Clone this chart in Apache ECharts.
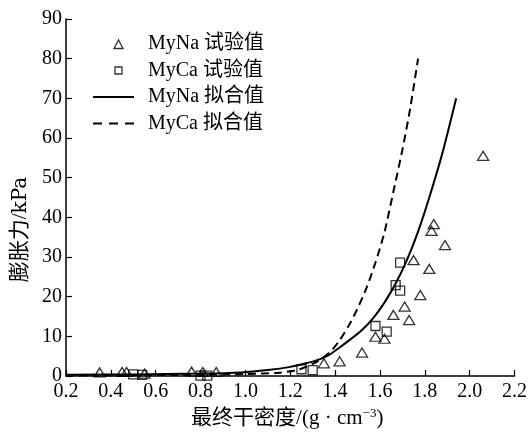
<!DOCTYPE html>
<html>
<head>
<meta charset="utf-8">
<script src="https://cdn.jsdelivr.net/npm/echarts@6/dist/echarts.min.js"></script>
<style>
html,body{margin:0;padding:0;background:#fff;}
#c{width:530px;height:439px;}
</style>
</head>
<body>
<div id="c"></div>
<script>
// ---- data ----
var xTicks = [0.2,0.4,0.6,0.8,1.0,1.2,1.4,1.6,1.8,2.0,2.2];
var yTicks = [0,10,20,30,40,50,60,70,80,90];

var naTestX = [0.35,0.45,0.47,0.55,0.76,0.81,0.87,1.35,1.42,1.52,1.58,1.62,1.66,1.71,1.73,1.75,1.78,1.82,1.83,1.84,1.89,2.06];
var naTestY = [0.9,1.0,1.0,0.6,1.1,1.0,1.0,3.2,3.7,5.9,9.9,9.4,15.4,17.5,14.1,29.2,20.4,27.0,36.6,38.3,33.0,55.5];

var caTestX = [0.50,0.54,0.80,0.83,1.25,1.30,1.58,1.63,1.67,1.69,1.69];
var caTestY = [0.4,0.3,0.1,0.1,1.7,1.5,12.6,11.2,22.9,21.5,28.6];

var naFitX = [0.2,0.5,0.8,0.98,1.1,1.2,1.27,1.32,1.37,1.42,1.47,1.52,1.57,1.62,1.67,1.72,1.77,1.82,1.88,1.94];
var naFitY = [0.3,0.4,0.6,0.9,1.5,2.3,3.2,4.0,5.2,7.2,9.3,11.6,14.6,18.5,23.3,29.2,36.4,45.0,56.5,70.0];

var caFitX = [0.2,0.8,1.0,1.15,1.23,1.27,1.32,1.38,1.42,1.46,1.50,1.54,1.58,1.62,1.66,1.70,1.735,1.77];
var caFitY = [0.1,0.3,0.5,0.8,1.5,2.3,3.6,6.2,9.0,12.6,17.0,22.2,28.6,36.2,46.5,57.0,67.5,80.0];

var names = ['MyNa 试验值','MyCa 试验值','MyNa 拟合值','MyCa 拟合值'];

function zip(a,b){var r=[];for(var i=0;i<a.length;i++)r.push([a[i],b[i]]);return r;}

var FONT = "'Liberation Serif','Times New Roman','Noto Sans CJK SC',serif";
var hidden = {color:'rgba(0,0,0,0)',borderColor:'rgba(0,0,0,0)',borderWidth:0,opacity:0};
var triIcon = 'path://M0,0L0,0M41,10L41,10M21,9.5L25.5,1L30,9.5Z';
var rectIcon = 'path://M0,0L0,0M41,10L41,10M22,1.5H29V8.5H22Z';

var chart = echarts.init(document.getElementById('c'), null, {renderer:'canvas'});
chart.setOption({
  animation:false,
  backgroundColor:'#fff',
  textStyle:{fontFamily:FONT,color:'#000'},
  grid:{left:66,right:15,top:19,bottom:63,containLabel:false},
  legend:{
    orient:'vertical', left:87, top:29,
    itemWidth:41, itemHeight:10, itemGap:6.5, symbolKeepAspect:false,
    data:[
      {name:names[0],icon:triIcon,itemStyle:{color:'rgba(255,255,255,0)',borderColor:'#000',borderWidth:1.3}},
      {name:names[1],icon:rectIcon,itemStyle:{color:'rgba(255,255,255,0)',borderColor:'#000',borderWidth:1.3}},
      {name:names[2],itemStyle:hidden,lineStyle:{color:'#000',width:2,type:'solid'}},
      {name:names[3],itemStyle:hidden,lineStyle:{color:'#000',width:2,type:[9,7]}}
    ],
    textStyle:{fontFamily:FONT,fontSize:20,color:'#000',padding:[0,0,0,9]}
  },
  xAxis:{
    type:'value', min:xTicks[0], max:xTicks[xTicks.length-1], interval:0.2,
    name:'最终干密度/(g · cm{sup|−3})', nameLocation:'middle', nameGap:25,
    nameTextStyle:{fontFamily:FONT,fontSize:21,color:'#000',padding:[0,6,0,0],
      rich:{sup:{fontFamily:FONT,fontSize:13,verticalAlign:'top',padding:[0,0,11,0],color:'#000'}}},
    axisLine:{show:true,onZero:false,lineStyle:{color:'#000',width:1.5}},
    axisTick:{show:true,inside:true,length:6,lineStyle:{color:'#000',width:1.2}},
    axisLabel:{fontFamily:FONT,fontSize:20,color:'#000',margin:6,formatter:function(v){return v.toFixed(1);}},
    splitLine:{show:false}
  },
  yAxis:{
    type:'value', min:yTicks[0], max:yTicks[yTicks.length-1], interval:10,
    name:'膨胀力/{w|kPa}', nameLocation:'middle', nameRotate:90, nameGap:35,
    nameTextStyle:{fontFamily:FONT,fontSize:21,color:'#000',padding:[0,64,0,0],
      rich:{w:{fontFamily:"'DejaVu Serif',serif",fontSize:20,color:'#000'}}},
    axisLine:{show:true,lineStyle:{color:'#000',width:1.5}},
    axisTick:{show:true,inside:true,length:6,lineStyle:{color:'#000',width:1.2}},
    axisLabel:{fontFamily:FONT,fontSize:20,color:'#000',margin:4},
    splitLine:{show:false}
  },
  series:[
    {name:names[2],type:'line',data:zip(naFitX,naFitY),showSymbol:false,symbol:'none',
     smooth:0.25,lineStyle:{color:'#000',width:2,type:'solid'},itemStyle:{color:'#000'},z:2},
    {name:names[3],type:'line',data:zip(caFitX,caFitY),showSymbol:false,symbol:'none',
     smooth:0.25,lineStyle:{color:'#000',width:2,type:[8,5]},itemStyle:{color:'#000'},z:2},
    {name:names[0],type:'scatter',data:zip(naTestX,naTestY),symbol:'triangle',symbolSize:[11,9],
     itemStyle:{color:'rgba(255,255,255,0)',borderColor:'#000',borderWidth:1.3},z:3},
    {name:names[1],type:'scatter',data:zip(caTestX,caTestY),symbol:'rect',symbolSize:[9,9],
     itemStyle:{color:'rgba(255,255,255,0)',borderColor:'#000',borderWidth:1.3},z:3}
  ]
});
</script>
</body>
</html>
